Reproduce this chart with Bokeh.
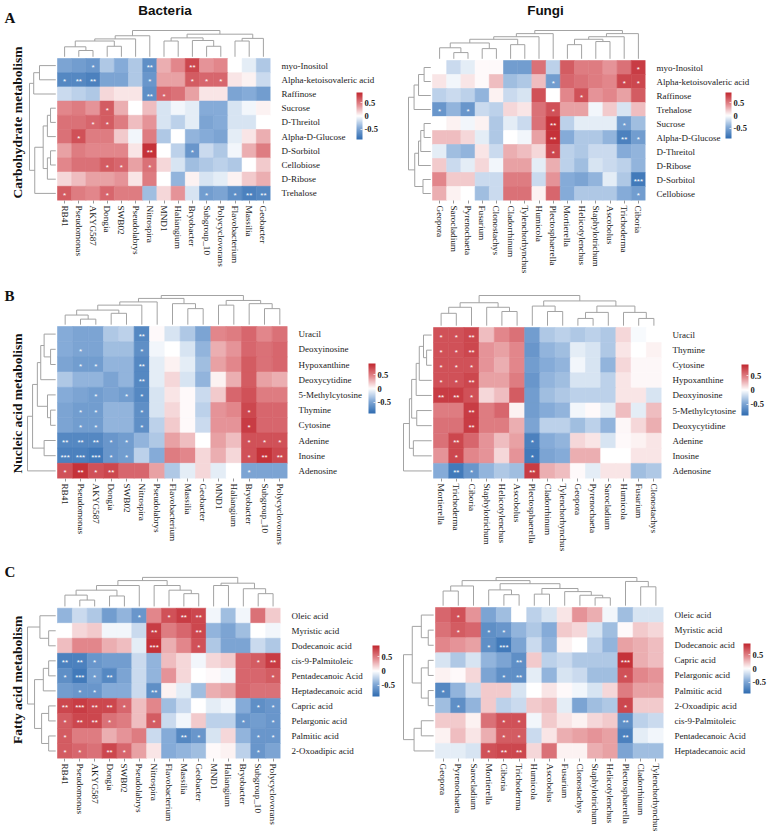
import math
from bokeh.plotting import figure
from bokeh.layouts import column, row
from bokeh.models import Range1d, LinearColorMapper, ColorBar, FixedTicker, ColumnDataSource
from bokeh.transform import transform
from bokeh.core.properties import value
from bokeh.embed import file_html
from bokeh.resources import INLINE

# ------------------------------------------------------------------ data
bac_a_cols = ["RB41", "Pseudomonas", "AKYG587", "Dongia", "SWB02", "Pseudolabrys", "Nitrospira", "MND1",
              "Haliangium", "Bryobacter", "Subgroup_10", "Polycyclovorans", "Flavobacterium", "Massilia", "Geobacter"]
bac_a_rows = ["myo-Inositol", "Alpha-ketoisovaleric acid", "Raffinose", "Sucrose", "D-Threitol",
              "Alpha-D-Glucose", "D-Sorbitol", "Cellobiose", "D-Ribose", "Trehalose"]
bac_a_vals = [
    [-0.5, -0.55, -0.6, -0.3, -0.45, -0.3, -0.65, 0.3, 0.45, 0.75, 0.4, 0.45, 0.0, -0.1, -0.3],
    [-0.7, -0.7, -0.75, -0.5, -0.5, -0.3, -0.6, 0.35, 0.35, 0.65, 0.6, 0.6, 0.1, 0.05, -0.2],
    [-0.2, -0.25, -0.3, 0.15, 0.1, 0.1, -0.65, 0.6, 0.55, 0.35, 0.1, 0.1, -0.5, -0.45, -0.55],
    [0.45, 0.5, 0.4, 0.65, 0.3, 0.0, 0.25, -0.15, -0.05, -0.1, -0.45, -0.45, -0.15, -0.05, 0.05],
    [0.55, 0.55, 0.6, 0.65, 0.5, 0.25, 0.4, -0.15, -0.25, -0.1, -0.5, -0.45, -0.15, -0.15, 0.0],
    [0.55, 0.7, 0.5, 0.5, 0.2, -0.05, 0.5, -0.3, 0.0, -0.4, -0.45, -0.5, -0.1, 0.1, 0.3],
    [0.35, 0.5, 0.45, 0.45, 0.45, 0.1, 0.85, 0.0, -0.25, -0.6, -0.2, -0.3, -0.05, 0.3, 0.5],
    [0.45, 0.55, 0.55, 0.65, 0.6, 0.35, 0.55, 0.15, -0.15, -0.35, -0.3, -0.25, -0.3, 0.0, 0.2],
    [0.15, 0.25, 0.35, 0.35, 0.4, 0.1, 0.5, 0.0, -0.4, 0.05, -0.15, -0.1, 0.05, 0.2, 0.3],
    [0.65, 0.5, 0.45, 0.6, 0.5, 0.5, -0.35, 0.15, 0.4, -0.15, -0.55, -0.5, -0.65, -0.75, -0.7],
]
bac_a_stars = ["001000200200000", "122000100111000", "000000210000000", "000100000000000", "001100000000000",
               "010000000000000", "000000200100000", "000110100000000", "000000000000000", "100100000010122"]
bac_a_col_tree = (((((0, (1, 2, .24), .38), (3, 4, .4), .6), 5, .68), 6, .8),
                  (((7, 8, .6), (9, (10, 11, .4), .62), .72), ((12, 13, .6), 14, .7), .86), 1.0)
bac_a_row_tree = (((0, 1, .62), 2, .84), ((((3, 4, .2), 5, .32), ((6, 7, .2), 8, .32), .48), 9, .8), 1.0)

fun_a_cols = ["Geopora", "Sarocladium", "Pyrenochaeta", "Fusarium", "Clonostachys", "Cladorrhinum",
              "Tylenchorhynchus", "Humicola", "Plectosphaerella", "Mortierella", "Helicotylenchus",
              "Staphylotrichum", "Ascobolus", "Trichoderma", "Ciboria"]
fun_a_rows = ["myo-Inositol", "Alpha-ketoisovaleric acid", "Raffinose", "Trehalose", "Sucrose",
              "Alpha-D-Glucose", "D-Threitol", "D-Ribose", "D-Sorbitol", "Cellobiose"]
fun_a_vals = [
    [0.0, -0.2, -0.1, 0.02, 0.02, -0.55, -0.55, 0.55, -0.25, 0.65, 0.5, 0.5, 0.4, 0.55, 0.8],
    [0.1, -0.05, 0.1, 0.02, 0.25, -0.35, -0.3, 0.25, -0.55, 0.6, 0.55, 0.5, 0.45, 0.75, 0.75],
    [-0.25, -0.2, -0.25, -0.4, 0.05, -0.2, -0.15, 0.7, 0.0, 0.45, 0.7, 0.4, 0.45, 0.35, 0.65],
    [-0.6, -0.4, -0.6, -0.2, -0.25, 0.15, 0.1, 0.55, 0.7, 0.35, 0.35, -0.05, 0.2, -0.15, 0.25],
    [0.0, 0.05, -0.05, 0.05, -0.3, -0.1, -0.2, 0.55, 0.85, -0.25, -0.1, -0.1, -0.1, -0.55, -0.35],
    [0.25, 0.25, 0.15, -0.1, -0.3, 0.0, -0.05, 0.35, 0.85, -0.45, -0.3, -0.3, -0.4, -0.75, -0.55],
    [-0.1, -0.35, -0.4, 0.1, -0.2, 0.3, 0.25, 0.15, 0.75, -0.25, -0.3, -0.2, -0.2, -0.45, -0.4],
    [0.2, -0.2, -0.1, 0.15, -0.05, 0.35, 0.35, -0.1, 0.3, -0.25, -0.35, -0.15, -0.2, -0.25, -0.4],
    [0.45, 0.2, 0.2, -0.2, -0.2, 0.5, 0.5, -0.2, 0.4, -0.45, -0.5, -0.4, -0.1, -0.3, -0.8],
    [0.3, 0.05, 0.0, -0.35, -0.2, 0.55, 0.55, 0.05, 0.6, -0.45, -0.3, -0.3, -0.3, -0.45, -0.55],
]
fun_a_stars = ["000000000000001", "000000001000011", "000000000010000", "101000001000000", "000000002000010",
               "000000002000021", "000000001000000", "000000000000000", "000000000000003", "000000000000001"]
fun_a_col_tree = ((((((0, (1, 2, .22), .39), (3, 4, .36), .56), (5, 6, .5), .69), 7, .78), 8, .89),
                  ((((9, 10, .5), (11, 12, .61), .69), 13, .78), 14, .89), 1.0)
fun_a_row_tree = ((((0, 1, .3), 2, .55), 3, .75), ((((4, 5, .3), 6, .45), 7, .55), (8, 9, .35), .72), 1.0)

bac_b_cols = ["RB41", "Pseudomonas", "AKYG587", "Dongia", "SWB02", "Nitrospira", "Pseudolabrys", "Flavobacterium",
              "Massilia", "Geobacter", "MND1", "Haliangium", "Bryobacter", "Subgroup_10", "Polycyclovorans"]
bac_b_rows = ["Uracil", "Deoxyinosine", "Hypoxanthine", "Deoxycytidine", "5-Methylcytosine", "Thymine",
              "Cytosine", "Adenine", "Inosine", "Adenosine"]
bac_b_vals = [
    [-0.45, -0.5, -0.5, -0.3, -0.25, -0.7, 0.02, -0.15, -0.3, -0.5, 0.45, 0.5, 0.6, 0.45, 0.55],
    [-0.45, -0.5, -0.5, -0.35, -0.35, -0.65, -0.05, 0.0, -0.15, -0.4, 0.3, 0.4, 0.6, 0.55, 0.6],
    [-0.5, -0.55, -0.55, -0.4, -0.4, -0.7, -0.1, 0.05, -0.1, -0.35, 0.35, 0.45, 0.65, 0.55, 0.6],
    [-0.3, -0.4, -0.4, -0.5, -0.4, -0.7, -0.1, 0.15, -0.15, -0.4, 0.05, 0.3, 0.65, 0.35, 0.3],
    [-0.45, -0.5, -0.55, -0.5, -0.55, -0.7, -0.15, 0.1, 0.02, -0.2, 0.2, 0.6, 0.7, 0.5, 0.5],
    [-0.5, -0.55, -0.55, -0.4, -0.4, -0.65, -0.15, 0.15, 0.02, -0.25, 0.4, 0.45, 0.75, 0.6, 0.6],
    [-0.5, -0.55, -0.55, -0.4, -0.4, -0.65, -0.25, 0.2, 0.02, -0.2, 0.4, 0.4, 0.8, 0.6, 0.6],
    [-0.7, -0.7, -0.7, -0.6, -0.55, -0.4, -0.3, 0.35, 0.25, 0.0, 0.35, 0.25, 0.7, 0.7, 0.7],
    [-0.75, -0.75, -0.8, -0.6, -0.55, -0.25, -0.45, 0.5, 0.45, 0.15, 0.3, 0.15, 0.7, 0.85, 0.75],
    [0.7, 0.85, 0.7, 0.75, 0.6, 0.6, 0.35, -0.3, -0.1, 0.15, -0.1, 0.0, -0.5, -0.5, -0.5],
]
bac_b_stars = ["000002000000000", "010001000000000", "011002000000000", "000002000000000", "001011000000000",
               "011001000000100", "011001000000100", "222110000000111", "333110000000122", "121200000000100"]
bac_b_col_tree = ((((((0, (1, 2, .19), .33), (3, 4, .39), .5), 5, .67), 6, .78), (7, (8, 9, .55), .72), .9),
                  ((10, 11, .67), (12, (13, 14, .55), .72), .83), 1.0)
bac_b_row_tree = (((((0, (1, 2, .18), .41), 3, .53), (4, (5, 6, .18), .29), .65), (7, 8, .41), .82), 9, 1.0)

fun_b_cols = ["Mortierella", "Trichoderma", "Ciboria", "Staphylotrichum", "Helicotylenchus", "Ascobolus",
              "Plectosphaerella", "Cladorrhinum", "Tylenchorhynchus", "Geopora", "Pyrenochaeta", "Sarocladium",
              "Humicola", "Fusarium", "Clonostachys"]
fun_b_rows = ["Uracil", "Thymine", "Cytosine", "Hypoxanthine", "Deoxyinosine", "5-Methylcytosine",
              "Deoxycytidine", "Adenine", "Inosine", "Adenosine"]
fun_b_vals = [
    [0.7, 0.7, 0.75, 0.25, 0.45, 0.55, -0.55, -0.3, -0.25, -0.3, -0.25, -0.3, 0.15, -0.03, 0.0],
    [0.7, 0.7, 0.75, 0.4, 0.35, 0.45, -0.6, -0.4, -0.35, -0.1, -0.15, -0.3, 0.1, 0.0, 0.05],
    [0.7, 0.7, 0.7, 0.4, 0.3, 0.45, -0.55, -0.45, -0.4, -0.05, -0.15, -0.4, 0.15, 0.03, 0.03],
    [0.7, 0.7, 0.75, 0.35, 0.35, 0.5, -0.6, -0.4, -0.35, -0.15, -0.15, -0.25, 0.1, 0.03, 0.03],
    [0.8, 0.8, 0.7, 0.15, 0.25, 0.65, -0.55, -0.35, -0.3, -0.25, -0.25, -0.25, 0.1, 0.1, -0.15],
    [0.5, 0.5, 0.8, 0.5, 0.6, 0.05, -0.55, -0.45, -0.4, -0.05, 0.02, -0.1, 0.25, -0.1, 0.25],
    [0.55, 0.55, 0.8, 0.5, 0.5, 0.3, -0.5, -0.25, -0.25, -0.35, -0.25, -0.4, 0.03, 0.15, 0.3],
    [0.55, 0.75, 0.6, 0.4, 0.25, 0.35, -0.75, -0.45, -0.4, 0.15, 0.1, -0.15, 0.02, 0.05, 0.1],
    [0.4, 0.75, 0.45, 0.4, 0.15, 0.4, -0.8, -0.5, -0.45, 0.3, 0.3, 0.0, 0.0, 0.1, 0.1],
    [-0.45, -0.8, -0.6, -0.4, -0.3, -0.35, 0.8, 0.3, 0.25, 0.02, -0.1, 0.1, 0.1, -0.35, -0.3],
]
fun_b_stars = ["112000000000000", "112000000000000", "111000000000000", "112000000000000", "221000000000000",
               "002000000000000", "002000000000000", "020000100000000", "010000100000000", "021000200000000"]
fun_b_col_tree = ((((0, 1, .41), 2, .61), (3, (4, 5, .47), .61), .76),
                  ((6, (7, 8, .47), .65), (((9, 10, .24), 11, .44), (12, (13, 14, .24), .44), .65), .82), 1.0)
fun_b_row_tree = ((((((0, (1, 2, .18), .29), 3, .44), 4, .55), (5, 6, .53), .71), (7, 8, .65), .79), 9, 1.0)

bac_c_cols = ["RB41", "Pseudomonas", "AKYG587", "Dongia", "SWB02", "Pseudolabrys", "Nitrospira", "Flavobacterium",
              "Massilia", "Geobacter", "MND1", "Haliangium", "Bryobacter", "Subgroup_10", "Polycyclovorans"]
bac_c_rows = ["Oleic acid", "Myristic acid", "Dodecanoic acid", "cis-9-Palmitoleic", "Pentadecanoic Acid",
              "Heptadecanoic acid", "Capric acid", "Pelargonic acid", "Palmitic acid", "2-Oxoadipic acid"]
bac_c_vals = [
    [-0.4, -0.2, -0.3, -0.55, -0.4, -0.6, 0.45, 0.7, 0.8, 0.75, -0.05, -0.35, -0.05, 0.55, 0.2],
    [0.0, 0.15, 0.2, -0.05, -0.05, -0.2, 0.8, 0.5, 0.6, 0.75, -0.4, -0.5, -0.35, 0.0, -0.05],
    [0.25, 0.45, 0.45, 0.3, 0.25, -0.1, 0.85, 0.3, 0.45, 0.7, -0.3, -0.5, -0.5, -0.2, -0.3],
    [-0.75, -0.75, -0.6, -0.55, -0.55, -0.2, -0.4, 0.25, 0.15, -0.05, 0.15, 0.2, 0.6, 0.65, 0.8],
    [-0.65, -0.8, -0.55, -0.7, -0.5, -0.2, -0.4, 0.4, 0.15, 0.0, 0.02, -0.05, 0.6, 0.6, 0.65],
    [-0.55, -0.6, -0.6, -0.45, -0.45, -0.2, -0.65, 0.05, -0.1, -0.35, 0.3, 0.35, 0.6, 0.55, 0.55],
    [0.75, 0.8, 0.75, 0.75, 0.6, 0.25, 0.45, -0.35, -0.2, 0.0, -0.1, -0.05, -0.45, -0.65, -0.6],
    [0.65, 0.75, 0.75, 0.55, 0.5, 0.25, 0.65, -0.2, -0.05, 0.2, -0.25, -0.25, -0.6, -0.55, -0.6],
    [0.65, 0.5, 0.5, 0.3, 0.4, 0.5, -0.2, -0.45, -0.7, -0.6, -0.15, 0.15, -0.4, -0.6, -0.6],
    [0.65, 0.6, 0.55, 0.75, 0.6, 0.35, 0.1, -0.45, -0.4, -0.35, 0.02, 0.05, -0.25, -0.6, -0.5],
]
bac_c_stars = ["000001012200000", "000000200200000", "000000300100000", "221000000000012", "131200000000001",
               "011000200000000", "232210000000011", "122100100000101", "100000002100011", "110210000000010"]
bac_c_col_tree = (((((0, (1, 2, .22), .39), (3, 4, .36), .56), 5, .72), (6, (7, (8, 9, .44), .56), .72), .89),
                  ((10, 11, .72), (12, (13, 14, .44), .61), .8), 1.0)
bac_c_row_tree = ((0, (1, 2, .25), .56), (((3, 4, .25), 5, .44), ((6, 7, .25), (8, 9, .25), .5), .75), 1.0)

fun_c_cols = ["Geopora", "Pyrenochaeta", "Sarocladium", "Mortierella", "Ciboria", "Trichoderma", "Humicola",
              "Ascobolus", "Fusarium", "Clonostachys", "Staphylotrichum", "Helicotylenchus", "Plectosphaerella",
              "Cladorrhinum", "Tylenchorhynchus"]
fun_c_rows = ["Oleic acid", "Myristic acid", "Dodecanoic acid", "Capric acid", "Pelargonic acid", "Palmitic acid",
              "2-Oxoadipic acid", "cis-9-Palmitoleic", "Pentadecanoic Acid", "Heptadecanoic acid"]
fun_c_vals = [
    [0.6, 0.7, 0.4, -0.5, -0.35, 0.0, -0.25, -0.15, 0.1, 0.4, 0.3, -0.05, -0.35, -0.15, -0.15],
    [0.55, 0.65, 0.6, -0.65, -0.6, -0.4, -0.3, -0.45, 0.2, 0.15, -0.15, -0.35, 0.02, 0.2, 0.15],
    [0.45, 0.4, 0.35, -0.65, -0.8, -0.5, -0.2, -0.4, 0.05, 0.0, -0.25, -0.4, 0.35, 0.3, 0.25],
    [-0.15, -0.3, -0.15, -0.4, -0.5, -0.65, 0.2, -0.25, -0.2, -0.3, -0.3, -0.3, 0.85, 0.3, 0.25],
    [0.05, 0.02, 0.15, -0.5, -0.65, -0.65, -0.1, -0.4, -0.15, -0.2, -0.35, -0.35, 0.7, 0.45, 0.4],
    [-0.7, -0.4, -0.2, 0.2, 0.2, -0.15, 0.0, 0.1, 0.02, -0.05, -0.15, 0.15, 0.5, 0.35, 0.35],
    [-0.35, -0.65, -0.4, 0.2, -0.25, -0.2, 0.2, 0.25, -0.1, -0.5, -0.35, -0.3, 0.75, 0.2, 0.2],
    [0.2, 0.2, 0.05, 0.55, 0.7, 0.7, -0.05, 0.2, 0.1, 0.05, 0.15, 0.2, -0.65, -0.25, -0.2],
    [0.05, 0.25, 0.1, 0.3, 0.65, 0.65, -0.2, 0.1, 0.3, 0.35, 0.4, 0.35, -0.75, -0.1, -0.05],
    [-0.1, -0.1, -0.15, 0.7, 0.75, 0.75, 0.15, 0.55, 0.05, 0.05, 0.3, 0.35, -0.5, -0.35, -0.35],
]
fun_c_stars = ["010000000000000", "010110000000000", "000130000000000", "000002000000300", "000012000000100",
               "100000000000000", "010000000000100", "000011000000200", "000011000000200", "000122000000000"]
fun_c_col_tree = ((((0, 1, .52), 2, .7),
                   ((3, (4, 5, .39), .56), ((6, 7, .41), (8, (9, (10, 11, .28), .37), .5), .61), .78), .89),
                  (12, (13, 14, .67), .86), 1.0)
fun_c_row_tree = (((0, (1, 2, .18), .41), ((3, 4, .18), (5, 6, .18), .41), .71), ((7, 8, .41), 9, .65), 1.0)

color_low, color_high = -0.9, 0.9
colorbar_ticks = [-0.5, 0.0, 0.5]

# ------------------------------------------------------------------ palette
def hex2rgb(h):
    return tuple(int(h[i:i + 2], 16) for i in (1, 3, 5))

def ramp(stops, n=255):
    out = []
    for k in range(n):
        t = k / (n - 1) * (len(stops) - 1)
        i = min(int(t), len(stops) - 2)
        f = t - i
        a, b = hex2rgb(stops[i]), hex2rgb(stops[i + 1])
        out.append("#%02x%02x%02x" % tuple(round(a[c] + (b[c] - a[c]) * f) for c in range(3)))
    return out

palette = ramp(["#2f6cb1", "#86acd8", "#ffffff", "#e2878c", "#c1272f"])
mapper = LinearColorMapper(palette=palette, low=color_low, high=color_high)

SERIF = "Liberation Serif"
SANS = "Liberation Sans"
DENDRO = "#a3a3a3"
INK = "#1a1a1a"


def leaves(tree):
    if isinstance(tree, int):
        return [tree]
    return leaves(tree[0]) + leaves(tree[1])


def dendro(tree):
    segs = []

    def walk(node):
        if isinstance(node, int):
            return float(node), 0.0
        l, r, h = node
        pl, hl = walk(l)
        pr, hr = walk(r)
        segs.append((pl, hl, pl, h))
        segs.append((pr, hr, pr, h))
        segs.append((pl, h, pr, h))
        return (pl + pr) / 2, h

    walk(tree)
    return segs


def panel(cols, rows, vals, stars, col_tree, row_tree, box, fig, cbar, title=None, letter=None, side=None):
    hx0, hx1, hy0, hy1, rootx, rooty = box
    ox, oy, W, H = fig
    assert leaves(col_tree) == list(range(len(cols)))
    assert leaves(row_tree) == list(range(len(rows)))
    nc, nr = len(cols), len(rows)
    cw = (hx1 - hx0) / nc
    ch = (hy1 - hy0) / nr
    gx = lambda x: (x - hx0) / cw
    gy = lambda y: (hy1 - y) / ch
    dl = (hx0 - rootx) / cw
    dt = (hy0 - rooty) / ch

    p = figure(width=W, height=H, x_range=Range1d(gx(ox), nc), y_range=Range1d(0, gy(oy)),
               y_axis_location="right", toolbar_location=None, output_backend="svg", title=None,
               min_border_left=0, min_border_right=round(ox + W - hx1),
               min_border_top=0, min_border_bottom=round(oy + H - hy1))
    p.outline_line_color = None
    p.grid.visible = False

    # cells
    xs, ys, vs, st, sx, sy = [], [], [], [], [], []
    for i in range(nr):
        for j in range(nc):
            xs.append(j + 0.5)
            ys.append(nr - i - 0.5)
            vs.append(vals[i][j])
            n = int(stars[i][j])
            if n:
                st.append("*" * n)
                sx.append(j + 0.5)
                sy.append(nr - i - 0.5)
    src = ColumnDataSource(dict(x=xs, y=ys, v=vs))
    p.rect("x", "y", width=1, height=1, source=src, fill_color=transform("v", mapper),
           line_color=transform("v", mapper), line_width=0.6)
    p.text(sx, sy, text=st, text_color="white", text_font=value(SANS), text_font_size="8px",
           text_align="center", text_baseline="middle", y_offset=2)

    # dendrograms
    gap = 0.12
    cs = dendro(col_tree)
    p.segment([a + 0.5 for a, _, _, _ in cs], [nr + gap + b * (dt - gap) for _, b, _, _ in cs],
              [c + 0.5 for _, _, c, _ in cs], [nr + gap + d * (dt - gap) for _, _, _, d in cs],
              line_color=DENDRO, line_width=1)
    rs = dendro(row_tree)
    p.segment([-gap - b * (dl - gap) for _, b, _, _ in rs], [nr - a - 0.5 for a, _, _, _ in rs],
              [-gap - d * (dl - gap) for _, _, _, d in rs], [nr - c - 0.5 for _, _, c, _ in rs],
              line_color=DENDRO, line_width=1)

    # axes: row labels on the right, column labels below
    ya = p.yaxis[0]
    yt = [nr - i - 0.5 for i in range(nr)]
    ya.ticker = FixedTicker(ticks=yt)
    ya.major_label_overrides = {t: r for t, r in zip(yt, rows)}
    ya.axis_line_color = None
    ya.major_tick_line_color = None
    ya.minor_tick_line_color = None
    ya.major_label_standoff = 5
    ya.major_label_text_font = SERIF
    ya.major_label_text_font_size = "9px"
    ya.major_label_text_color = INK

    xa = p.xaxis[0]
    xt = [j + 0.5 for j in range(nc)]
    xa.ticker = FixedTicker(ticks=xt)
    xa.major_label_overrides = {t: c for t, c in zip(xt, cols)}
    xa.axis_line_color = None
    xa.major_tick_line_color = "#999999"
    xa.major_tick_in = 0
    xa.major_tick_out = 3
    xa.minor_tick_line_color = None
    xa.major_label_orientation = -math.pi / 2
    xa.major_label_standoff = 2
    xa.major_label_text_font = SERIF
    xa.major_label_text_font_size = "9.2px"
    xa.major_label_text_color = INK

    # colour bar (location = bottom-left corner, measured from the frame's bottom-left)
    cbx0, cby0, cbx1, cby1 = cbar
    cb = ColorBar(color_mapper=mapper, location=(cbx0 - ox, hy1 - cby1), width=cbx1 - cbx0,
                  height=cby1 - cby0, padding=0, margin=0, label_standoff=2,
                  ticker=FixedTicker(ticks=colorbar_ticks),
                  major_label_overrides={-0.5: "-0.5", 0.0: "0", 0.5: "0.5"},
                  major_label_text_font=SERIF, major_label_text_font_style="bold",
                  major_label_text_font_size="8.5px", major_label_text_color=INK,
                  major_tick_line_color="white", major_tick_line_alpha=0.7, major_tick_in=2,
                  major_tick_out=0, bar_line_color=None, border_line_color=None,
                  background_fill_alpha=0)
    p.add_layout(cb, "center")

    if title:
        t, tx, ty = title
        p.text([gx(tx)], [gy(ty)], text=[t], text_font=value(SANS), text_font_style="bold",
               text_font_size="13.5px", text_align="center", text_baseline="middle", text_color="#111111")
    if letter:
        t, tx, ty = letter
        p.text([gx(tx)], [gy(ty)], text=[t], text_font=value(SERIF), text_font_style="bold",
               text_font_size="15px", text_align="left", text_baseline="top", text_color="#111111")
    if side:
        t, tx, ty = side
        p.text([gx(tx)], [gy(ty)], text=[t], angle=math.pi / 2, text_font=value(SERIF),
               text_font_style="bold", text_font_size="13.5px", text_align="center",
               text_baseline="middle", text_color="#111111")
    return p


LW, RW = 400, 367
pA1 = panel(bac_a_cols, bac_a_rows, bac_a_vals, bac_a_stars, bac_a_col_tree, bac_a_row_tree,
            (57, 270, 58, 200, 29, 30), (0, 0, LW, 280), (356, 92, 362, 139),
            title=("Bacteria", 164.5, 10), letter=("A", 4, 9), side=("Carbohydrate metabolism", 17, 122))
pA2 = panel(fun_a_cols, fun_a_rows, fun_a_vals, fun_a_stars, fun_a_col_tree, fun_a_row_tree,
            (432, 645, 60, 200, 408, 30), (LW, 0, RW, 280), (725, 92, 731, 138),
            title=("Fungi", 545, 10))
pB1 = panel(bac_b_cols, bac_b_rows, bac_b_vals, bac_b_stars, bac_b_col_tree, bac_b_row_tree,
            (57, 287, 326, 478, 27, 295), (0, 280, LW, 275), (368, 363, 375, 413),
            letter=("B", 4, 287), side=("Nucleic acid metabolism", 17, 403))
pB2 = panel(fun_b_cols, fun_b_rows, fun_b_vals, fun_b_stars, fun_b_col_tree, fun_b_row_tree,
            (433, 661, 327, 478, 403, 295), (LW, 280, RW, 275), (741, 364, 748, 415))
pC1 = panel(bac_c_cols, bac_c_rows, bac_c_vals, bac_c_stars, bac_c_col_tree, bac_c_row_tree,
            (57, 280, 608, 759, 27, 577), (0, 555, LW, 283), (372, 646, 379, 697),
            letter=("C", 4, 564), side=("Fatty acid metabolism", 17, 680))
pC2 = panel(fun_c_cols, fun_c_rows, fun_c_vals, fun_c_stars, fun_c_col_tree, fun_c_row_tree,
            (435, 663, 607, 758, 403, 577), (LW, 555, RW, 283), (743, 643, 750, 693))

layout = column(row(pA1, pA2, spacing=0), row(pB1, pB2, spacing=0), row(pC1, pC2, spacing=0), spacing=0)
open("out.html", "w").write(file_html(layout, INLINE))
